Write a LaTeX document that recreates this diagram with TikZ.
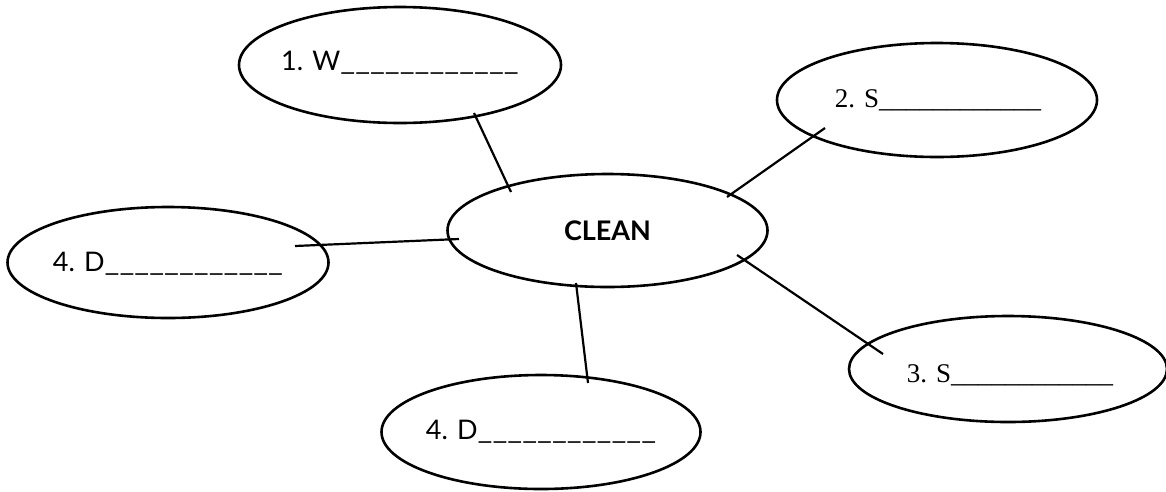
\documentclass[tikz,border=0pt]{standalone}
\usepackage{fontspec}
\setmainfont{Liberation Serif}
\newfontfamily\optfont{Lato}
\usetikzlibrary{shapes.geometric}
\newcommand{\blankline}{\scalebox{1.2}[1]{\_\_\_\_\_\_\_\_\_\_\_\_}}
\begin{document}
\begin{tikzpicture}[x=1pt,y=-1pt,
  bubble/.style={draw, line width=2.6pt, ellipse, inner sep=0pt, minimum width=320pt, minimum height=113pt},
  sanslab/.style={font=\optfont\fontsize{27}{27}\selectfont, inner sep=0pt, text height=14pt, text depth=0pt},
  seriflab/.style={font=\fontsize{27}{27}\selectfont, inner sep=0pt, text height=14pt, text depth=0pt},
  conn/.style={line width=2.2pt}]
\useasboundingbox (0,0) rectangle (1166,491);
\fill[white] (0,0) rectangle (1166,491);

\node[bubble, minimum width=322pt, minimum height=116pt] (w) at (400,65) {};
\node[bubble, minimum width=320pt, minimum height=114pt] (s2) at (937,100) {};
\node[bubble, minimum width=320pt, minimum height=113pt] (c) at (607.5,230.5) {};
\node[bubble, minimum width=321pt, minimum height=111pt] (dl) at (168,262.5) {};
\node[bubble, minimum width=318pt, minimum height=106pt] (s3) at (1008,369) {};
\node[bubble, minimum width=319pt, minimum height=114pt] (db) at (541,432) {};

\node[sanslab] (tw) at (400,63) {1. W\blankline};
\node[seriflab] (ts2) at (938,100) {2. S\_\_\_\_\_\_\_\_\_\_\_\_};
\node[font=\optfont\bfseries\fontsize{27}{27}\selectfont, inner sep=0pt] (tc) at (607.5,231) {CLEAN};
\node[sanslab] (tdl) at (168,264) {4. D\blankline};
\node[seriflab] (ts3) at (1010,375) {3. S\_\_\_\_\_\_\_\_\_\_\_\_};
\node[sanslab] (tdb) at (541,432) {4. D\blankline};

\coordinate (w1) at (474,113);
\coordinate (c1) at (511,192);
\coordinate (s21) at (825,128);
\coordinate (c2) at (727,197);
\coordinate (c3) at (737,255);
\coordinate (s31) at (883,354);
\coordinate (dl1) at (295,246);
\coordinate (c4) at (459,239);
\coordinate (c5) at (576,283);
\coordinate (db1) at (588,383);

\draw[conn] (w1) -- (c1);
\draw[conn] (s21) -- (c2);
\draw[conn] (c3) -- (s31);
\draw[conn] (dl1) -- (c4);
\draw[conn] (c5) -- (db1);
\end{tikzpicture}
\end{document}
